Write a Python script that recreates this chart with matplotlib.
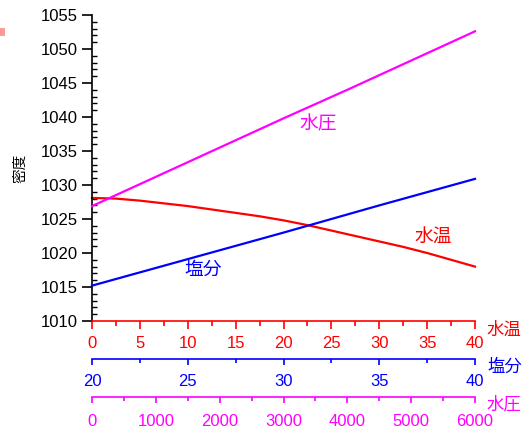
import matplotlib
matplotlib.use("Agg")
import matplotlib.pyplot as plt
from matplotlib.patches import Rectangle

plt.rcParams['font.family'] = ['Liberation Sans', 'Noto Sans CJK JP', 'DejaVu Sans']

# 水温 (°C) vs 密度
temp = [0, 2.5, 5, 7.5, 10, 12.5, 15, 17.5, 20, 22.5, 25, 27.5, 30, 32.5, 35, 37.5, 40]
dens_temp = [1028.1, 1028.0, 1027.7, 1027.3, 1026.9, 1026.4, 1025.9, 1025.4, 1024.8,
             1024.1, 1023.3, 1022.5, 1021.7, 1020.9, 1020.0, 1019.0, 1018.0]

# 塩分 vs 密度
salt = [20, 25, 30, 35, 40]
dens_salt = [1015.2, 1019.1, 1023.0, 1027.0, 1030.9]

# 水圧 vs 密度
press = [0, 1000, 2000, 3000, 4000, 5000, 6000]
dens_press = [1026.9, 1031.2, 1035.5, 1039.8, 1044.0, 1048.3, 1052.6]

RED = '#ff0000'
BLUE = '#0000ff'
MAG = '#ff00ff'


def style_xaxis(a, color, lo, hi, major, minor, maj_len, min_len, pad):
    a.set_xlim(lo, hi)
    a.set_xticks(range(lo, hi + 1, major))
    a.set_xticks([lo + minor * i for i in range(int((hi - lo) / minor) + 1)], minor=True)
    a.tick_params(axis='x', which='major', direction='out', length=maj_len, width=1.2,
                  color=color, labelcolor=color, labelsize=12, pad=pad)
    a.tick_params(axis='x', which='minor', direction='out', length=min_len, width=1.2,
                  color=color)
    a.spines['bottom'].set_color(color)
    a.spines['bottom'].set_linewidth(1.2)


fig = plt.figure(figsize=(5.22, 4.28), dpi=100)
ax = fig.add_axes([92 / 522, 1 - 321 / 428, (475 - 92) / 522, (321 - 15) / 428])

for s in ['top', 'right']:
    ax.spines[s].set_visible(False)
ax.spines['left'].set_linewidth(1.2)

ax.set_ylim(1010, 1055)
ax.set_yticks(range(1010, 1056, 5))
ax.set_yticks(range(1010, 1056, 1), minor=True)
ax.tick_params(axis='y', which='major', direction='out', length=7, width=1.2, labelsize=12, pad=3)
ax.tick_params(axis='y', which='minor', direction='in', length=3.5, width=1.0)
ax.set_ylabel('密度', fontsize=10.5, labelpad=10)

style_xaxis(ax, RED, 0, 40, 5, 2.5, 6, 3.5, 4.5)
ax.plot(temp, dens_temp, color=RED, lw=1.6, clip_on=False)

ax2 = ax.twiny()
ax3 = ax.twiny()
for a, off in [(ax2, 27.4), (ax3, 54.7)]:
    a.xaxis.set_ticks_position('bottom')
    for s in ['top', 'right', 'left']:
        a.spines[s].set_visible(False)
    a.spines['bottom'].set_position(('outward', off))
    a.patch.set_visible(False)

style_xaxis(ax2, BLUE, 20, 40, 5, 2.5, 4.5, 3, 6.5)
ax2.plot(salt, dens_salt, color=BLUE, lw=1.6, clip_on=False)

style_xaxis(ax3, MAG, 0, 6000, 1000, 500, 4.5, 3, 8)
ax3.plot(press, dens_press, color=MAG, lw=1.6, clip_on=False)
ax3.set_ylim(1010, 1055)
ax2.set_ylim(1010, 1055)

# curve labels
ax3.text(3540, 1038.9, '水圧', color=MAG, fontsize=13.5, ha='center', va='center')
ax.text(35.6, 1022.2, '水温', color=RED, fontsize=13.5, ha='center', va='center')
ax2.text(25.8, 1017.5, '塩分', color=BLUE, fontsize=13.5, ha='center', va='center')

# axis names on the right
fig.text(487 / 522, 1 - 329.5 / 428, '水温', color=RED, fontsize=12.5, va='center')
fig.text(487 / 522, 1 - 367 / 428, '塩分', color=BLUE, fontsize=12.5, va='center')
fig.text(487 / 522, 1 - 404.5 / 428, '水圧', color=MAG, fontsize=12.5, va='center')

fig.patches.append(Rectangle((0, 1 - 36 / 428), 5 / 522, 8 / 428, transform=fig.transFigure,
                             facecolor='#ff9a9a', edgecolor='none'))

fig.savefig('out.png', dpi=100)
